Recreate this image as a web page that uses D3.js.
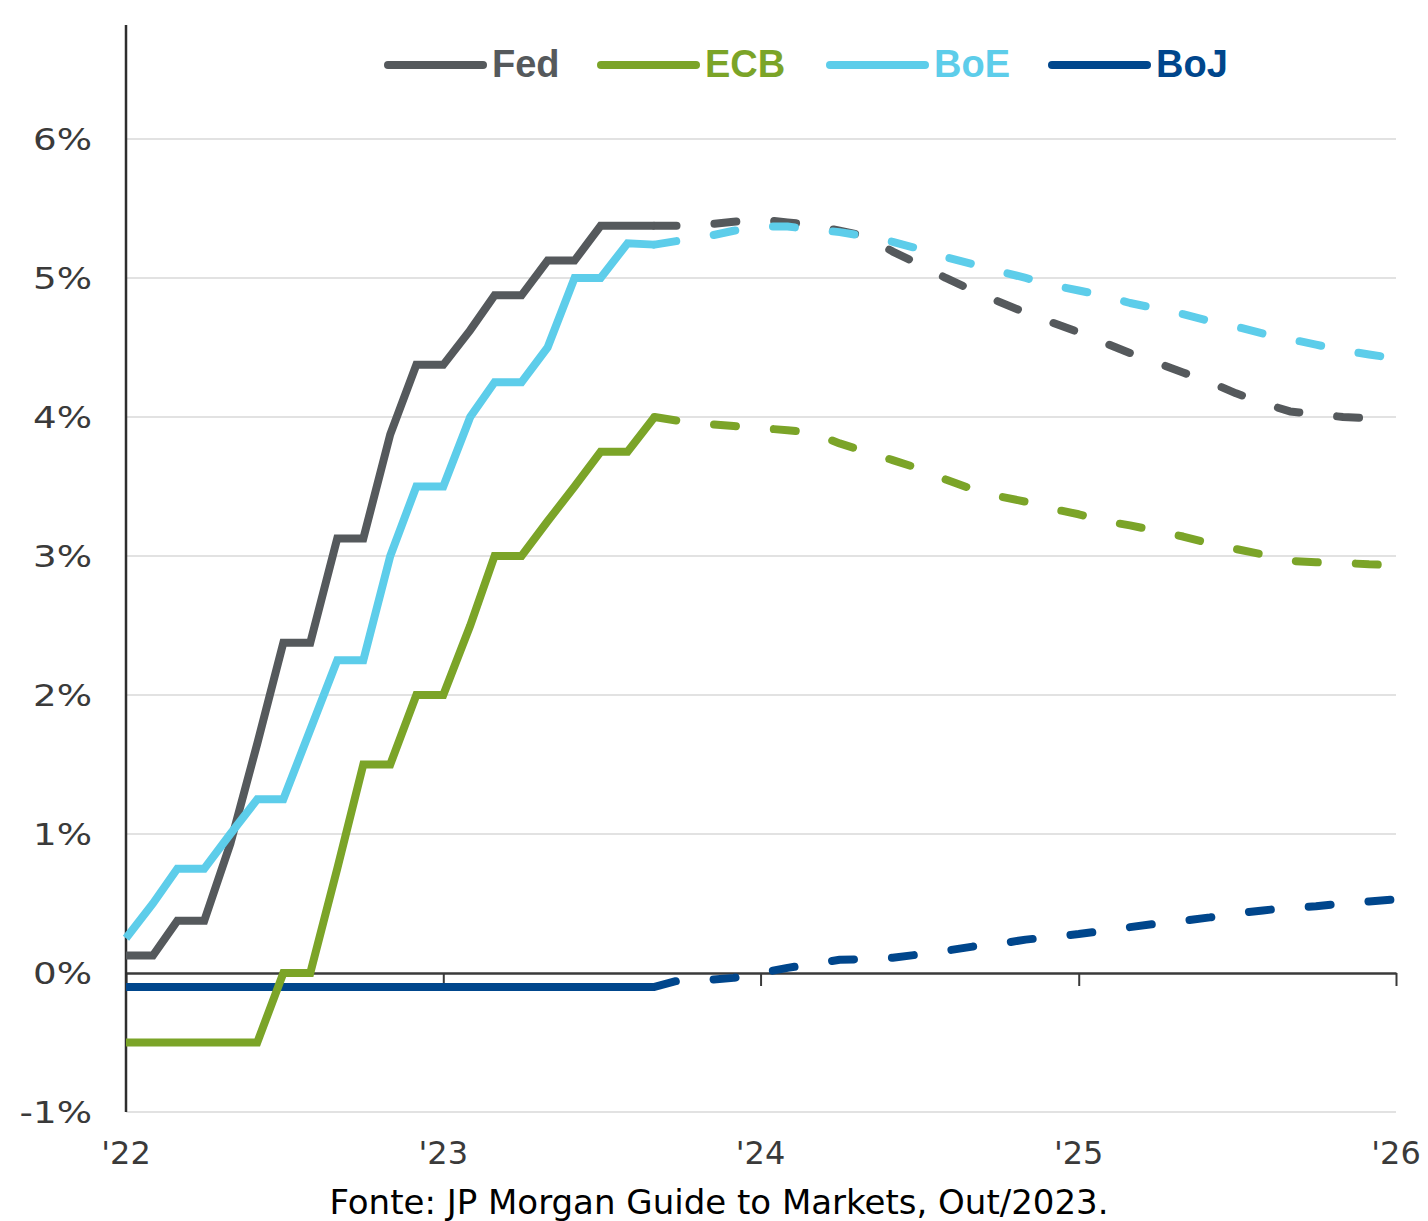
<!DOCTYPE html>
<html>
<head>
<meta charset="utf-8">
<script src="https://cdn.jsdelivr.net/npm/d3@7"></script>
<style>
  html, body { margin: 0; padding: 0; background: #ffffff; }
  svg { display: block; }
</style>
</head>
<body>
<svg id="chart" width="1428" height="1221"></svg>
<script>
// ---- Data (monthly, Jan 2022 = index 0) ----
const yTicks = [-1, 0, 1, 2, 3, 4, 5, 6];
const yTickLabels = ["-1%", "0%", "1%", "2%", "3%", "4%", "5%", "6%"];
const xTickYears = [2022, 2023, 2024, 2025, 2026];
const xTickLabels = ["'22", "'23", "'24", "'25", "'26"];
const seriesNames = ["Fed", "ECB", "BoE", "BoJ"];
const seriesColors = ["#55595c", "#7ba428", "#5dcdea", "#00468c"];

// actual values: Jan 2022 .. Sep 2023 (21 months)
const fedActual = [0.125, 0.125, 0.375, 0.375, 0.93, 1.65, 2.375, 2.375, 3.125, 3.125, 3.875, 4.375,
  4.375, 4.625, 4.875, 4.875, 5.125, 5.125, 5.375, 5.375, 5.375];
const ecbActual = [-0.5, -0.5, -0.5, -0.5, -0.5, -0.5, 0.0, 0.0, 0.75, 1.5, 1.5, 2.0,
  2.0, 2.5, 3.0, 3.0, 3.25, 3.5, 3.75, 3.75, 4.0];
const boeActual = [0.25, 0.5, 0.75, 0.75, 1.0, 1.25, 1.25, 1.75, 2.25, 2.25, 3.0, 3.5,
  3.5, 4.0, 4.25, 4.25, 4.5, 5.0, 5.0, 5.25, 5.24];
const bojActual = [-0.1, -0.1, -0.1, -0.1, -0.1, -0.1, -0.1, -0.1, -0.1, -0.1, -0.1, -0.1,
  -0.1, -0.1, -0.1, -0.1, -0.1, -0.1, -0.1, -0.1, -0.1];

// market-implied path: Sep 2023 .. Jan 2026 (29 months)
const fedForecast = [5.375, 5.375, 5.385, 5.405, 5.42, 5.40, 5.38, 5.34, 5.30, 5.19, 5.10, 5.00,
  4.91, 4.83, 4.75, 4.68, 4.61, 4.53, 4.46, 4.39, 4.32, 4.25, 4.17, 4.10, 4.04, 4.02, 4.00, 3.99, 3.98];
const ecbForecast = [4.0, 3.97, 3.95, 3.935, 3.92, 3.905, 3.885, 3.81, 3.75, 3.69, 3.63, 3.55,
  3.48, 3.43, 3.39, 3.34, 3.30, 3.25, 3.22, 3.18, 3.14, 3.09, 3.05, 3.01, 2.965, 2.955, 2.95, 2.94, 2.935];
const boeForecast = [5.24, 5.27, 5.30, 5.34, 5.37, 5.37, 5.35, 5.33, 5.30, 5.26, 5.21, 5.15,
  5.10, 5.05, 5.00, 4.95, 4.91, 4.87, 4.82, 4.78, 4.74, 4.69, 4.65, 4.60, 4.56, 4.52, 4.48, 4.45, 4.42];
const bojForecast = [-0.1, -0.05, -0.05, -0.035, 0.0, 0.037, 0.065, 0.095, 0.10, 0.11, 0.133, 0.16,
  0.19, 0.21, 0.24, 0.26, 0.28, 0.305, 0.33, 0.355, 0.375, 0.40, 0.43, 0.45, 0.47, 0.48, 0.50, 0.515, 0.53];

const sourceText = "Fonte: JP Morgan Guide to Markets, Out/2023.";

// ---- Build ----
const svg = d3.select("#chart");
const monthDate = i => new Date(2022, i, 1);
const forecastStart = fedActual.length - 1;

const x = d3.scaleTime()
  .domain([new Date(2022, 0, 1), new Date(2026, 0, 1)])
  .range([126, 1396]);
const y = d3.scaleLinear().domain([-1, 6.82]).range([1112, 25]);

const fontMain = "'DejaVu Sans', Verdana, sans-serif";

// gridlines
svg.append("g").selectAll("line")
  .data(yTicks.filter(v => v !== 0))
  .join("line")
  .attr("x1", x.range()[0]).attr("x2", x.range()[1])
  .attr("y1", d => y(d)).attr("y2", d => y(d))
  .attr("stroke", "#d9d9d9").attr("stroke-width", 1.5);

// y labels
svg.append("g").selectAll("text")
  .data(yTicks)
  .join("text")
  .attr("transform", d => `translate(92,${y(d)}) scale(1.2,1)`)
  .attr("text-anchor", "end")
  .attr("dy", "0.36em")
  .attr("font-family", fontMain)
  .attr("font-size", 31)
  .attr("fill", "#3a3a3a")
  .text((d, i) => yTickLabels[i]);

// x axis at 0 with ticks down
const xAxis = d3.axisBottom(x)
  .tickValues(xTickYears.map(yr => new Date(yr, 0, 1)))
  .tickSize(13)
  .tickSizeOuter(0)
  .tickFormat("");
const xg = svg.append("g").attr("transform", `translate(0,${y(0)})`).call(xAxis);
xg.select(".domain").attr("stroke", "#3a3a3a").attr("stroke-width", 2.5);
xg.selectAll(".tick line").attr("stroke", "#3a3a3a").attr("stroke-width", 2);

// x labels
svg.append("g").selectAll("text")
  .data(xTickYears)
  .join("text")
  .attr("x", d => x(new Date(d, 0, 1)))
  .attr("y", 1164)
  .attr("text-anchor", "middle")
  .attr("font-family", fontMain)
  .attr("font-size", 32)
  .attr("fill", "#3a3a3a")
  .text((d, i) => xTickLabels[i]);

// y axis line
svg.append("line")
  .attr("x1", x.range()[0]).attr("x2", x.range()[0])
  .attr("y1", y.range()[1]).attr("y2", y.range()[0])
  .attr("stroke", "#2e2e2e").attr("stroke-width", 2.5);

// series
const actuals = [fedActual, ecbActual, boeActual, bojActual];
const forecasts = [fedForecast, ecbForecast, boeForecast, bojForecast];
const line = d3.line().x(d => x(d.date)).y(d => y(d.v));
const drawOrder = [3, 0, 2, 1];

drawOrder.forEach(k => {
  const act = actuals[k].map((v, i) => ({ date: monthDate(i), v }));
  const fc = forecasts[k].map((v, i) => ({ date: monthDate(forecastStart + i), v }));
  svg.append("path").datum(fc)
    .attr("d", line)
    .attr("fill", "none")
    .attr("stroke", seriesColors[k])
    .attr("stroke-width", 8)
    .attr("stroke-linecap", "round")
    .attr("stroke-linejoin", "round")
    .attr("stroke-dasharray", "22 38");
  svg.append("path").datum(act)
    .attr("d", line)
    .attr("fill", "none")
    .attr("stroke", seriesColors[k])
    .attr("stroke-width", 8)
    .attr("stroke-linejoin", "miter");
});

// legend
const legendX = [388, 601, 830, 1052];
const lg = svg.append("g");
seriesNames.forEach((name, i) => {
  lg.append("line")
    .attr("x1", legendX[i]).attr("x2", legendX[i] + 95)
    .attr("y1", 65).attr("y2", 65)
    .attr("stroke", seriesColors[i]).attr("stroke-width", 8)
    .attr("stroke-linecap", "round");
  lg.append("text")
    .attr("x", legendX[i] + 104)
    .attr("y", 77)
    .attr("font-family", "'Liberation Sans', Arial, sans-serif")
    .attr("font-weight", "bold")
    .attr("font-size", 38)
    .attr("fill", seriesColors[i])
    .text(name);
});

// source
svg.append("text")
  .attr("x", 719)
  .attr("y", 1214)
  .attr("text-anchor", "middle")
  .attr("font-family", fontMain)
  .attr("font-size", 34)
  .attr("fill", "#000000")
  .text(sourceText);
</script>
</body>
</html>
